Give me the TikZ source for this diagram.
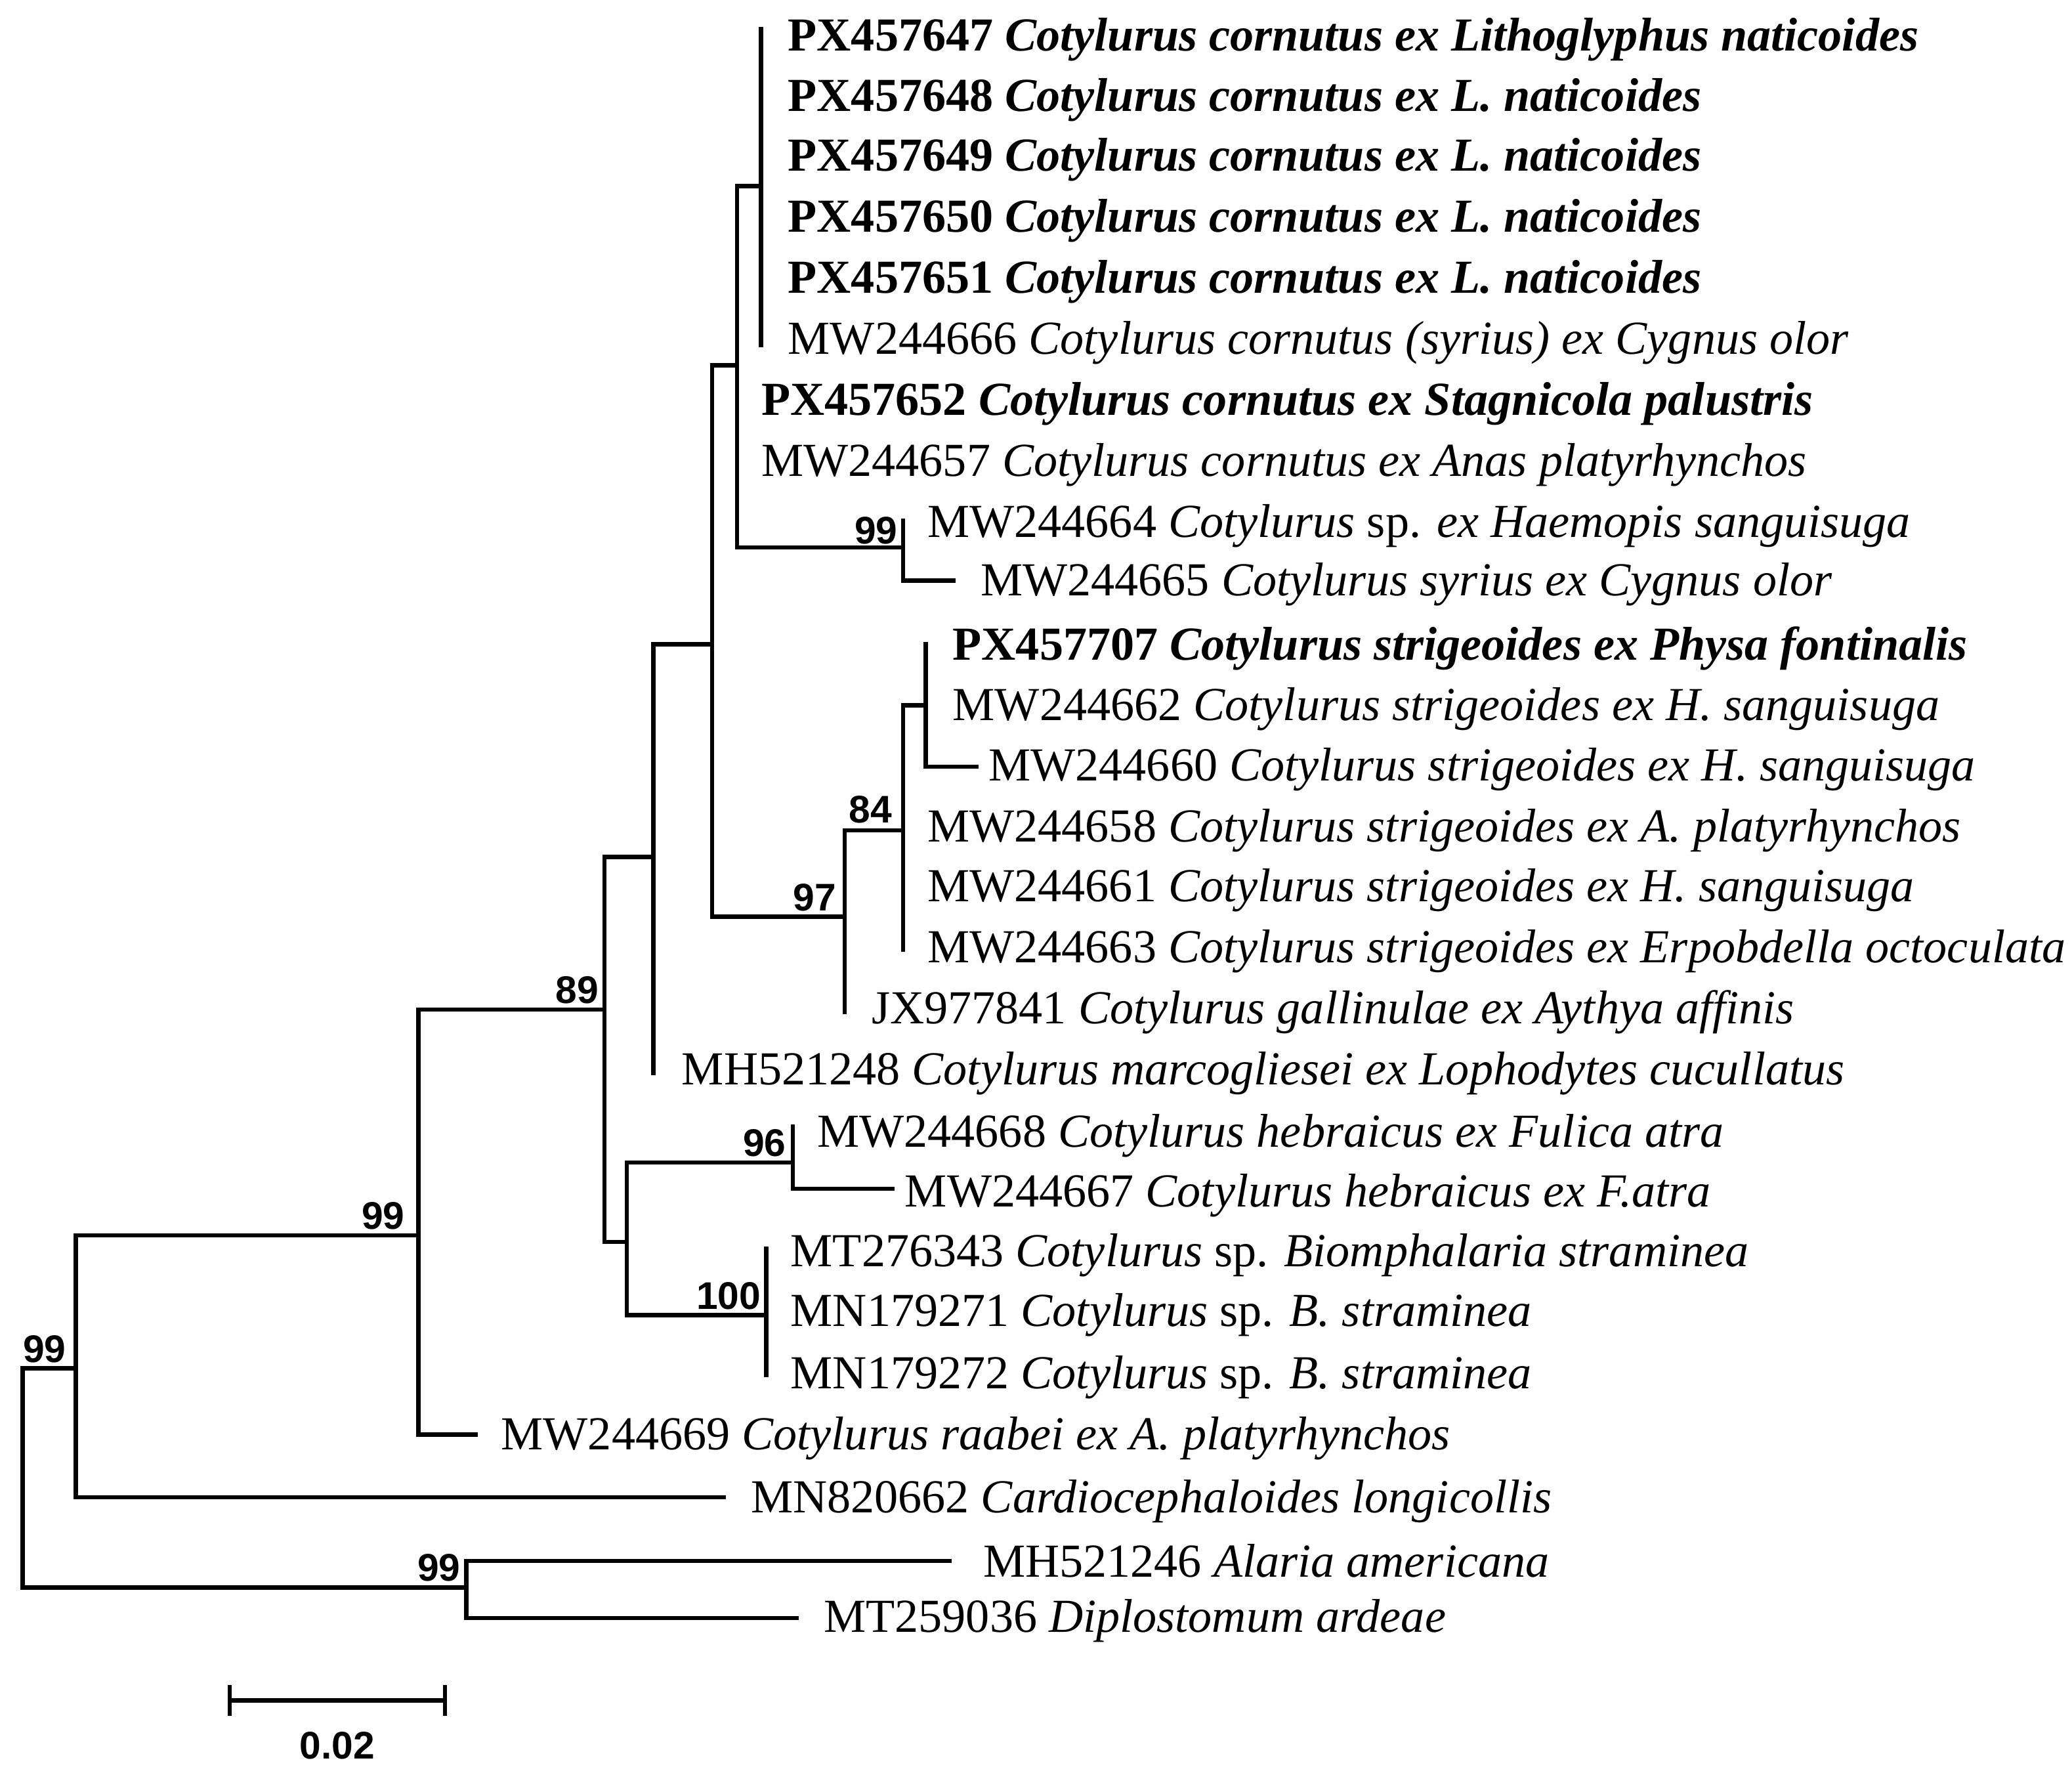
\documentclass[tikz,border=0pt]{standalone}
\usepackage{fontspec}
\setmainfont{Liberation Serif}
\newfontfamily\bsf{Liberation Sans}
\tikzset{br/.style={line width=1.8pt,line cap=rect},
lf/.style={anchor=west,inner sep=0pt,font=\fontsize{20.3}{22}\selectfont},
bs/.style={anchor=south east,inner sep=0pt,font=\bsf\bfseries\fontsize{16.5}{18}\selectfont}}
\newcommand{\lfn}[4]{\node[lf] (#1) at (#2+20,#3) {#4};}
\begin{document}
\begin{tikzpicture}[x=0.02cm,y=-0.02cm]
\useasboundingbox (0,0) rectangle (1560,1333);
% cornutus
\draw[br] (573,22) -- (573,260);
\lfn{a1}{573}{30}{\textbf{PX457647 \textit{Cotylurus cornutus ex Lithoglyphus naticoides}}}
\lfn{a2}{573}{75}{\textbf{PX457648 \textit{Cotylurus cornutus ex L. naticoides}}}
\lfn{a3}{573}{120}{\textbf{PX457649 \textit{Cotylurus cornutus ex L. naticoides}}}
\lfn{a4}{573}{166}{\textbf{PX457650 \textit{Cotylurus cornutus ex L. naticoides}}}
\lfn{a5}{573}{212}{\textbf{PX457651 \textit{Cotylurus cornutus ex L. naticoides}}}
\lfn{a6}{573}{258}{MW244666 \textit{Cotylurus cornutus (syrius) ex Cygnus olor}}
\draw[br] (555,140) -- (573,140);
\draw[br] (555,140) -- (555,412) -- (680,412);
\lfn{a7}{553}{304}{\textbf{PX457652 \textit{Cotylurus cornutus ex Stagnicola palustris}}}
\lfn{a8}{553}{350}{MW244657 \textit{Cotylurus cornutus ex Anas platyrhynchos}}
\draw[br] (680,392) -- (680,437) -- (718,437);
\lfn{a9}{678}{396}{MW244664 \textit{Cotylurus} sp. \textit{ex Haemopis sanguisuga}}
\lfn{a10}{718}{440}{MW244665 \textit{Cotylurus syrius ex Cygnus olor}}
\node[bs] (b1) at (676,410) {99};
% strigeoides
\draw[br] (536,275) -- (555,275);
\draw[br] (536,275) -- (536,690) -- (636,690);
\draw[br] (636,625) -- (636,762);
\draw[br] (636,625) -- (680,625);
\draw[br] (680,531) -- (680,715);
\draw[br] (680,531) -- (697,531);
\draw[br] (697,485) -- (697,577) -- (735,577);
\lfn{c1}{697}{488}{\textbf{PX457707 \textit{Cotylurus strigeoides ex Physa fontinalis}}}
\lfn{c2}{697}{534}{MW244662 \textit{Cotylurus strigeoides ex H. sanguisuga}}
\lfn{c3}{724}{579}{MW244660 \textit{Cotylurus strigeoides ex H. sanguisuga}}
\lfn{c4}{678}{625}{MW244658 \textit{Cotylurus strigeoides ex A. platyrhynchos}}
\lfn{c5}{678}{670}{MW244661 \textit{Cotylurus strigeoides ex H. sanguisuga}}
\lfn{c6}{678}{716}{MW244663 \textit{Cotylurus strigeoides ex Erpobdella octoculata}}
\lfn{c7}{636}{762}{JX977841 \textit{Cotylurus gallinulae ex Aythya affinis}}
\node[bs] (b2) at (672,620) {84};
\node[bs] (b3) at (630,686) {97};
% 492 node
\draw[br] (492,485) -- (536,485);
\draw[br] (492,485) -- (492,808);
\lfn{d1}{493}{808}{MH521248 \textit{Cotylurus marcogliesei ex Lophodytes cucullatus}}
% 455 node
\draw[br] (455,645) -- (492,645);
\draw[br] (455,645) -- (455,935) -- (472,935);
\draw[br] (472,875) -- (597,875);
\draw[br] (472,875) -- (472,990) -- (577,990);
\draw[br] (597,848) -- (597,895) -- (672,895);
\lfn{e1}{595}{855}{MW244668 \textit{Cotylurus hebraicus ex Fulica atra}}
\lfn{e2}{661}{900}{MW244667 \textit{Cotylurus hebraicus ex F.atra}}
\node[bs] (b4) at (592,871) {96};
\draw[br] (577,940) -- (577,1035);
\lfn{e3}{575}{945}{MT276343 \textit{Cotylurus} sp. \textit{Biomphalaria straminea}}
\lfn{e4}{575}{990}{MN179271 \textit{Cotylurus} sp. \textit{B. straminea}}
\lfn{e5}{575}{1037}{MN179272 \textit{Cotylurus} sp. \textit{B. straminea}}
\node[bs] (b5) at (573,986) {100};
% 315 node
\draw[br] (315,760) -- (455,760);
\draw[br] (315,760) -- (315,1080) -- (358,1080);
\lfn{f1}{357}{1083}{MW244669 \textit{Cotylurus raabei ex A. platyrhynchos}}
\node[bs] (b6) at (451,756) {89};
% 57 node
\draw[br] (57,930) -- (315,930);
\draw[br] (57,930) -- (57,1127) -- (545,1127);
\lfn{g1}{545}{1130}{MN820662 \textit{Cardiocephaloides longicollis}}
\node[bs] (b7) at (305,926) {99};
% root
\draw[br] (17,1030) -- (57,1030);
\draw[br] (17,1030) -- (17,1195) -- (351,1195);
\draw[br] (351,1175) -- (715,1175);
\draw[br] (351,1175) -- (351,1218) -- (600,1218);
\lfn{h1}{720}{1175}{MH521246 \textit{Alaria americana}}
\lfn{h2}{600}{1220}{MT259036 \textit{Diplostomum ardeae}}
\node[bs] (b8) at (347,1191) {99};
\node[bs] (b9) at (50,1026) {99};
% scale
\draw[br] (173,1280) -- (335,1280);
\draw[br] (173,1270) -- (173,1290);
\draw[br] (335,1270) -- (335,1290);
\node[inner sep=0pt,font=\bsf\bfseries\fontsize{16.5}{18}\selectfont] (sc) at (254,1314) {0.02};
\end{tikzpicture}
\end{document}
